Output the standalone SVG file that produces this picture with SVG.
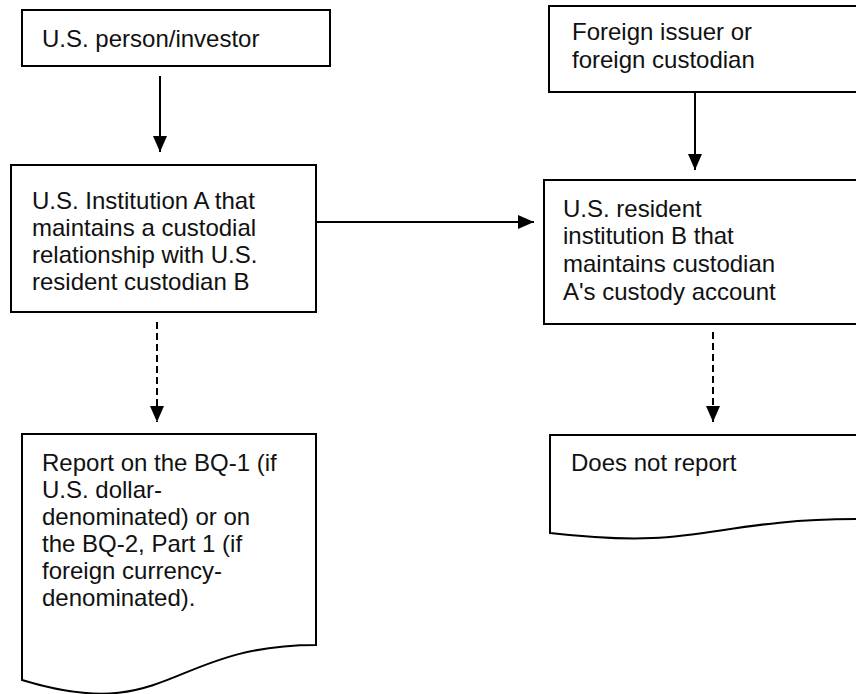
<svg xmlns="http://www.w3.org/2000/svg" width="856" height="694" viewBox="0 0 856 694">
<style>
.box{fill:#fff;stroke:#000;stroke-width:2}
.t{font-family:"Liberation Sans",Arial,sans-serif;font-size:24px;fill:#111}
.c{stroke:#000;stroke-width:2;fill:none}
.d{stroke-dasharray:7 4}
</style>
<defs>
<marker id="ah" viewBox="0 0 16 14" refX="16" refY="7" markerWidth="16" markerHeight="14" markerUnits="userSpaceOnUse" orient="auto">
<path d="M0,0 L16,7 L0,14 z" fill="#000"/>
</marker>
</defs>
<g id="n1">
<rect class="box" x="22" y="10" width="308" height="56"/>
<text class="t" x="42" y="47">U.S. person/investor</text>
</g>
<g id="n2">
<rect class="box" x="549" y="6" width="313" height="86"/>
<text class="t" x="572" y="40">Foreign issuer or</text>
<text class="t" x="572" y="68">foreign custodian</text>
</g>
<g id="n3">
<rect class="box" x="11" y="165" width="305" height="147"/>
<text class="t" x="32" y="209">U.S. Institution A that</text>
<text class="t" x="32" y="236">maintains a custodial</text>
<text class="t" x="32" y="263">relationship with U.S.</text>
<text class="t" x="32" y="290">resident custodian B</text>
</g>
<g id="n4">
<rect class="box" x="544" y="180" width="318" height="144"/>
<text class="t" x="563" y="217">U.S. resident</text>
<text class="t" x="563" y="244">institution B that</text>
<text class="t" x="563" y="272">maintains custodian</text>
<text class="t" x="563" y="300">A's custody account</text>
</g>
<g id="n5">
<path class="box" d="M22,434 H316 V645 C169,645 169,725 22,680 Z"/>
<text class="t" x="42" y="471">Report on the BQ-1 (if</text>
<text class="t" x="42" y="498">U.S. dollar-</text>
<text class="t" x="42" y="525">denominated) or on</text>
<text class="t" x="42" y="552">the BQ-2, Part 1 (if</text>
<text class="t" x="42" y="579">foreign currency-</text>
<text class="t" x="42" y="606">denominated).</text>
</g>
<g id="n6">
<path class="box" d="M550,435 H862 V519 C706,519 706,551 550,533 Z"/>
<text class="t" x="571" y="471">Does not report</text>
</g>
<g id="connectors">
<line class="c" x1="160" y1="76" x2="160" y2="152" marker-end="url(#ah)"/>
<line class="c" x1="695" y1="92" x2="695" y2="170" marker-end="url(#ah)"/>
<line class="c" x1="316" y1="222" x2="534" y2="222" marker-end="url(#ah)"/>
<line class="c d" x1="157" y1="322" x2="157" y2="422" marker-end="url(#ah)"/>
<line class="c d" x1="713" y1="332" x2="713" y2="422" marker-end="url(#ah)"/>
</g>
</svg>
